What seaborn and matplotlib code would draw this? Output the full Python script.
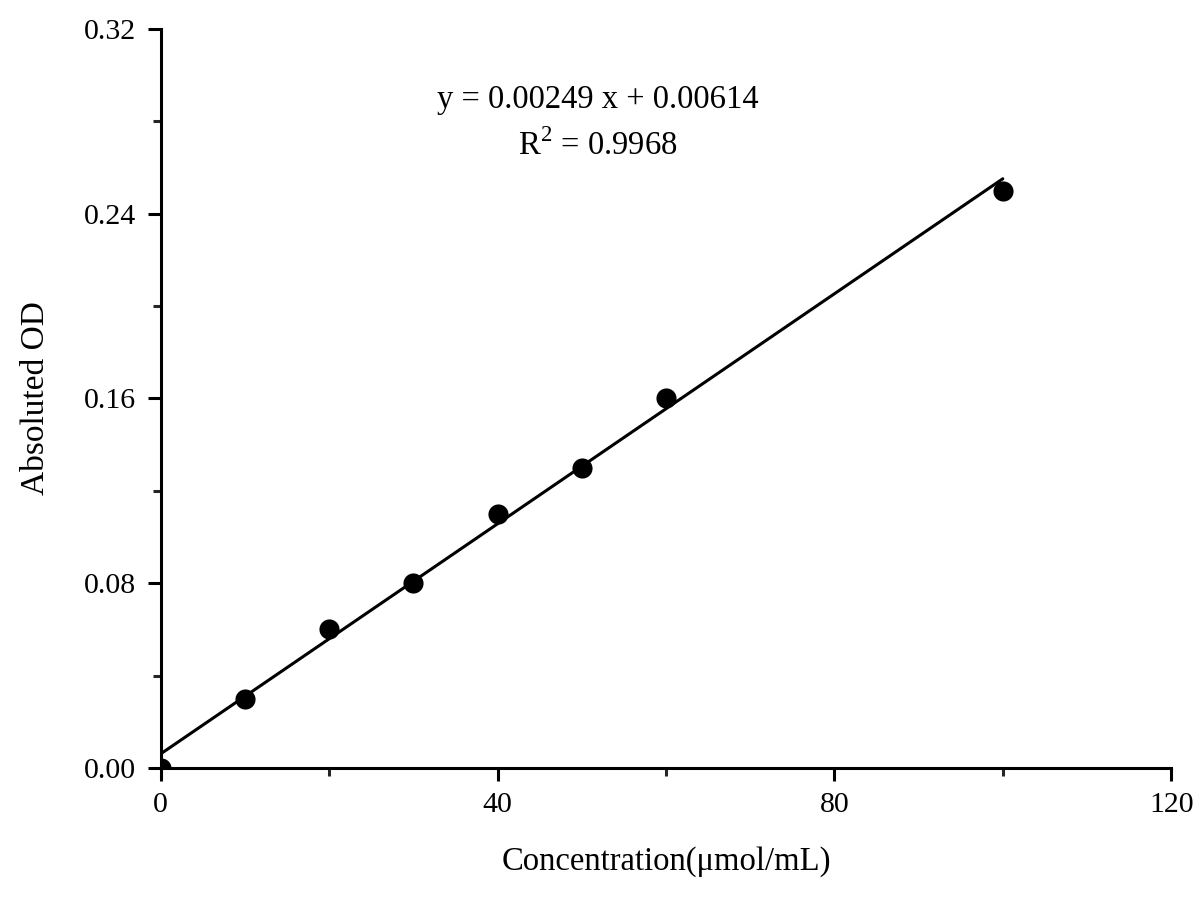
import matplotlib
matplotlib.use("Agg")
import matplotlib.pyplot as plt
import seaborn as sns
import numpy as np
import pandas as pd
from matplotlib.ticker import MultipleLocator

concentration = [0, 10, 20, 30, 40, 50, 60, 100]
absoluted_od = [0.0, 0.030, 0.060, 0.080, 0.110, 0.130, 0.160, 0.250]
slope = 0.00249
intercept = 0.00614
r_squared = 0.9968
fit_x = [0, 100]

sns.set_style("ticks")
plt.rcParams['font.family'] = ['Liberation Serif', 'DejaVu Serif']
plt.rcParams['mathtext.fontset'] = 'custom'
plt.rcParams['mathtext.rm'] = 'Liberation Serif'
plt.rcParams['text.color'] = 'black'
plt.rcParams['axes.labelcolor'] = 'black'

fig = plt.figure(figsize=(12, 9), dpi=100)
ax = fig.add_axes([0.134, 0.1467, 0.842, 0.8211])

df = pd.DataFrame({"x": concentration, "y": absoluted_od})
fit_df = pd.DataFrame({"x": fit_x, "y": [slope * v + intercept for v in fit_x]})

sns.lineplot(data=fit_df, x="x", y="y", ax=ax, color="black", linewidth=2.2, zorder=2)
sns.scatterplot(data=df, x="x", y="y", ax=ax, color="black", s=210, edgecolor="black",
                linewidth=0, zorder=3, clip_on=True)

ax.set_xlim(0, 120)
ax.set_ylim(0, 0.32)
ax.xaxis.set_major_locator(MultipleLocator(40))
ax.xaxis.set_minor_locator(MultipleLocator(20))
ax.yaxis.set_major_locator(MultipleLocator(0.08))
ax.yaxis.set_minor_locator(MultipleLocator(0.04))
ax.yaxis.set_major_formatter(matplotlib.ticker.FormatStrFormatter('%.2f'))

for side in ["top", "right"]:
    ax.spines[side].set_visible(False)
for side in ["left", "bottom"]:
    ax.spines[side].set_linewidth(2.2)
    ax.spines[side].set_color("black")

ax.tick_params(axis="both", which="major", direction="out", length=9.5, width=2.2,
               labelsize=21.5, colors="black", pad=8)
ax.tick_params(axis="both", which="minor", direction="out", length=5.5, width=2.2)

ax.set_xlabel("Concentration(\u03bcmol/mL)", fontsize=23.5, labelpad=20)
ax.set_ylabel("Absoluted OD", fontsize=24, labelpad=24)

ax.text(0.433, 0.904, f"y = {slope:.5f} x + {intercept:.5f}", transform=ax.transAxes,
        ha="center", va="center", fontsize=23.5)
ax.text(0.433, 0.842, f"R$^{{2}}$ = {r_squared:.4f}", transform=ax.transAxes,
        ha="center", va="center", fontsize=23.5)

fig.savefig("out.png", dpi=100)
